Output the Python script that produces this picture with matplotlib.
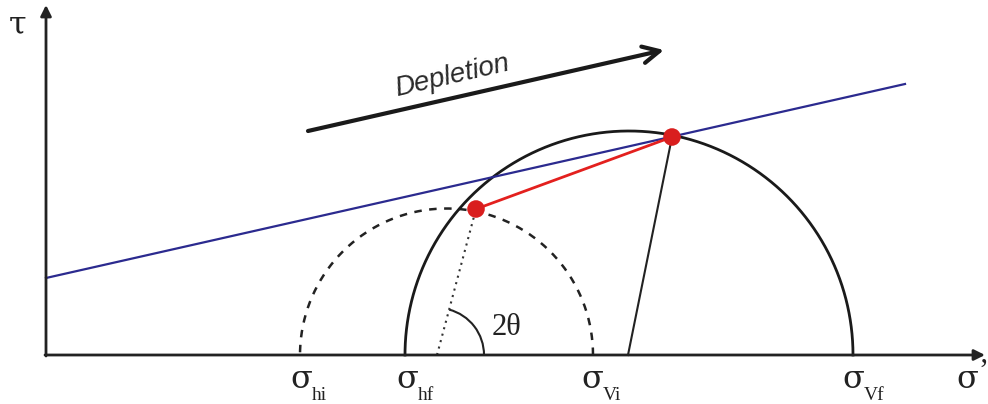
import numpy as np
import matplotlib.pyplot as plt
from matplotlib.patches import Arc

SERIF = 'Liberation Serif'
GREEK = 'DejaVu Serif'

# everything in picture pixel units (x right, y down), x-axis sits at y0
y0 = 355
x_axis_end = 985
y_axis_x = 46
y_axis_top = 5

# Mohr circles: (left, right) stress on the sigma' axis
initial_circle = (300, 593)   # sigma_hi .. sigma_Vi (dashed)
final_circle = (405, 853)     # sigma_hf .. sigma_Vf (solid)

# failure envelope (blue)
envelope_x = [46, 905]
envelope_y = [278, 84]

# stress points (red)
point_x = [476, 672]
point_y = [209, 137]

# radius lines down to the axis
dotted_foot = 437
solid_foot = 628

# depletion arrow
dep_start = (308, 131)
dep_end = (664, 50)

sigma_subs = ['hi', 'hf', 'Vi', 'Vf']
sigma_pos = [290, 396, 581, 842]

fig = plt.figure(figsize=(9.88, 4.04), dpi=100)
ax = fig.add_axes([0, 0, 1, 1])
ax.set_xlim(0, 988)
ax.set_ylim(404, 0)
ax.axis('off')

# axes with arrows
ax.annotate('', xy=(x_axis_end, y0), xytext=(y_axis_x - 1, y0),
            arrowprops=dict(arrowstyle='-|>', lw=2, color='#222222', mutation_scale=16,
                            shrinkA=0, shrinkB=0))
ax.annotate('', xy=(y_axis_x, y_axis_top), xytext=(y_axis_x, y0 + 1),
            arrowprops=dict(arrowstyle='-|>', lw=2, color='#222222', mutation_scale=16,
                            shrinkA=0, shrinkB=0))

t = np.linspace(0, np.pi, 300)

# initial circle, dashed
c1 = (initial_circle[0] + initial_circle[1]) / 2
r1 = (initial_circle[1] - initial_circle[0]) / 2
ax.plot(c1 + r1 * np.cos(t), y0 - r1 * np.sin(t), color='#222222', lw=1.8,
        linestyle=(0, (3, 3)))

# final circle, solid
c2 = (final_circle[0] + final_circle[1]) / 2
r2 = (final_circle[1] - final_circle[0]) / 2
ax.plot(c2 + r2 * np.cos(t), y0 - r2 * np.sin(t), color='#1a1a1a', lw=2)

# envelope
ax.plot(envelope_x, envelope_y, color='#2b2a8f', lw=1.6)

# radius lines
ax.plot([dotted_foot, point_x[0]], [y0, point_y[0]], color='#333333', lw=1.5,
        linestyle=(0, (1, 2.2)))
ax.plot([solid_foot, point_x[1]], [y0, point_y[1]], color='#222222', lw=1.5)

# 2theta arc
ang = np.degrees(np.arctan2(y0 - point_y[0], point_x[0] - dotted_foot))
ax.add_patch(Arc((dotted_foot, y0), 94, 94, theta1=-ang, theta2=0,
                 color='#222222', lw=1.5))
ax.text(492, 335, '2θ', fontsize=22, ha='left', va='baseline', color='#222222',
        family=SERIF)

# red stress path
ax.plot(point_x, point_y, color='#e3201e', lw=2)
ax.scatter(point_x, point_y, s=160, color='#d91e1e', zorder=5, edgecolors='none')

# depletion arrow
ax.annotate('', xy=dep_end, xytext=dep_start,
            arrowprops=dict(arrowstyle='->', lw=3, color='#1a1a1a', mutation_scale=30,
                            shrinkA=0, shrinkB=0))
ax.text(452, 76, 'Depletion', fontsize=20, style='italic', rotation=13,
        ha='center', va='center', color='#2a2a2a', family='Liberation Sans')

# labels
for sub, x in zip(sigma_subs, sigma_pos):
    ax.text(x, 388, 'σ', fontsize=23, ha='left', va='baseline', color='#222222',
            family=GREEK)
    ax.text(x + 22, 400, sub, fontsize=14, ha='left', va='baseline', color='#222222',
            family=SERIF)
ax.text(956, 388, 'σ', fontsize=23, ha='left', va='baseline', color='#222222',
        family=GREEK)
ax.text(978, 380, '’', fontsize=22, ha='left', va='baseline', color='#222222',
        family=SERIF)
ax.text(9, 33, 'τ', fontsize=23, ha='left', va='baseline', color='#222222',
        family=GREEK)

fig.savefig('out.png', dpi=100)
